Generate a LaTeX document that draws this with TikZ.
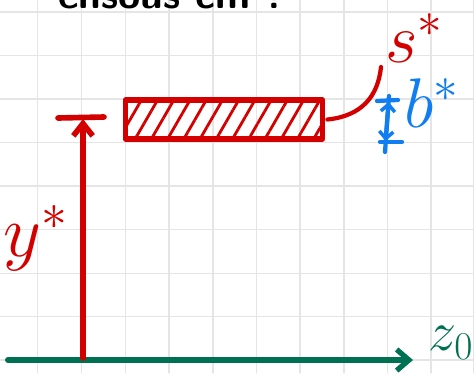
\RequirePackage{fix-cm}
\documentclass[tikz,border=0pt]{standalone}
\usepackage{fontspec}
\usetikzlibrary{arrows.meta,patterns.meta}
\definecolor{sketchRed}{RGB}{212,0,0}
\definecolor{sketchBlue}{RGB}{16,126,240}
\definecolor{sketchGreen}{RGB}{0,112,82}
\definecolor{sketchGrid}{RGB}{229,229,229}
\begin{document}
\begin{tikzpicture}[x=0.02cm, y=-0.02cm, line cap=round, line join=round]
% Sketch of a slab above the axis, in pixel units
\providecommand{\skGridWidth}{0.8pt}
\providecommand{\skPenWidth}{3.2pt}
\providecommand{\skLabelFont}{\fontsize{40}{44}\selectfont}
\tikzset{
  redpen/.style={draw=sketchRed, line width=\skPenWidth},
  bluepen/.style={draw=sketchBlue, line width=2.4pt},
  greenpen/.style={draw=sketchGreen, line width=3.4pt},
  sklabel/.style={inner sep=0pt, font=\skLabelFont},
  barb/.style={-{Straight Barb[length=7pt, width=11pt, line width=\skPenWidth]}}
}
\useasboundingbox (0,0) rectangle (474,373);
\clip (0,0) rectangle (474,373);
% Background
\fill[white] (0,0) rectangle (474,373);
% Grid
% Vertical lines
\begin{scope}[draw=sketchGrid, line width=\skGridWidth]
  \draw (37.7,0) -- (37.7,373);
  \draw (81.5,0) -- (81.5,373);
  \draw (125.4,0) -- (125.4,373);
  \draw (169.1,0) -- (169.1,373);
  \draw (212.8,0) -- (212.8,373);
  \draw (256.4,0) -- (256.4,373);
  \draw (300.1,0) -- (300.1,373);
  \draw (343.8,0) -- (343.8,373);
  \draw (387.4,0) -- (387.4,373);
  \draw (431.1,0) -- (431.1,373);
  \draw (473.8,0) -- (473.8,373);
\end{scope}
% Horizontal lines
\begin{scope}[draw=sketchGrid, line width=\skGridWidth]
  \draw (0,12.0) -- (474,12.0);
  \draw (0,55.6) -- (474,55.6);
  \draw (0,98.8) -- (474,98.8);
  \draw (0,142.4) -- (474,142.4);
  \draw (0,186.0) -- (474,186.0);
  \draw (0,229.6) -- (474,229.6);
  \draw (0,273.2) -- (474,273.2);
  \draw (0,316.4) -- (474,316.4);
  \draw (0,360.0) -- (474,360.0);
\end{scope}
% Heading, cut by the top edge
\node[anchor=base, inner sep=0pt, font=\sffamily\bfseries\fontsize{23}{24}\selectfont] (heading) at (172,8) {ensous cm ?};
% Axis
\coordinate (axisL) at (8,360);
\coordinate (axisR) at (413,360);
\draw[greenpen, -{Straight Barb[length=7pt, width=12pt, line width=3pt]}] (axisL) -- (axisR);
\node[sklabel, text=sketchGreen, font=\fontsize{32}{36}\selectfont] (zLabel) at (451,343) {$z_0$};
% Slab
\node[redpen, inner sep=0pt, minimum width=3.94cm, minimum height=0.78cm,
      pattern={Lines[angle=60, distance=8pt, line width=1.6pt]}, pattern color=sketchRed] (slab) at (224,119.5) {};
% Height of the slab
\coordinate (yBase) at (83,358);
\coordinate (yTop) at (83,119);
\coordinate (barL) at (58,118);
\coordinate (barR) at (104,117);
\draw[redpen, barb] (yBase) -- (yTop);
\draw[redpen] (barL) -- (barR);
\node[sklabel, text=sketchRed, font=\fontsize{42}{46}\selectfont] (yLabel) at (36,238) {$y^*$};
% Section label
\coordinate (sTail) at (381,67);
\draw[redpen, line width=2.4pt] ([xshift=2pt]slab.east) .. controls (362,116) and (378,96) .. (sTail);
\node[sklabel, text=sketchRed] (sLabel) at (414,38) {$s^*$};
% Thickness of the slab
\coordinate (bTop) at (389,96);
\coordinate (bBot) at (385,152);
\draw[bluepen] (bTop) -- (bBot);
\draw[bluepen] (377,101) -- (398,100);
\draw[bluepen] (380,142) -- (402,142);
\draw[bluepen, {Straight Barb[length=4pt, width=8pt, line width=2pt]}-{Straight Barb[length=4pt, width=8pt, line width=2pt]}] (388.6,102) -- (385.6,141);
\node[sklabel, text=sketchBlue] (bLabel) at (432,103) {$b^*$};
\end{tikzpicture}
\end{document}
